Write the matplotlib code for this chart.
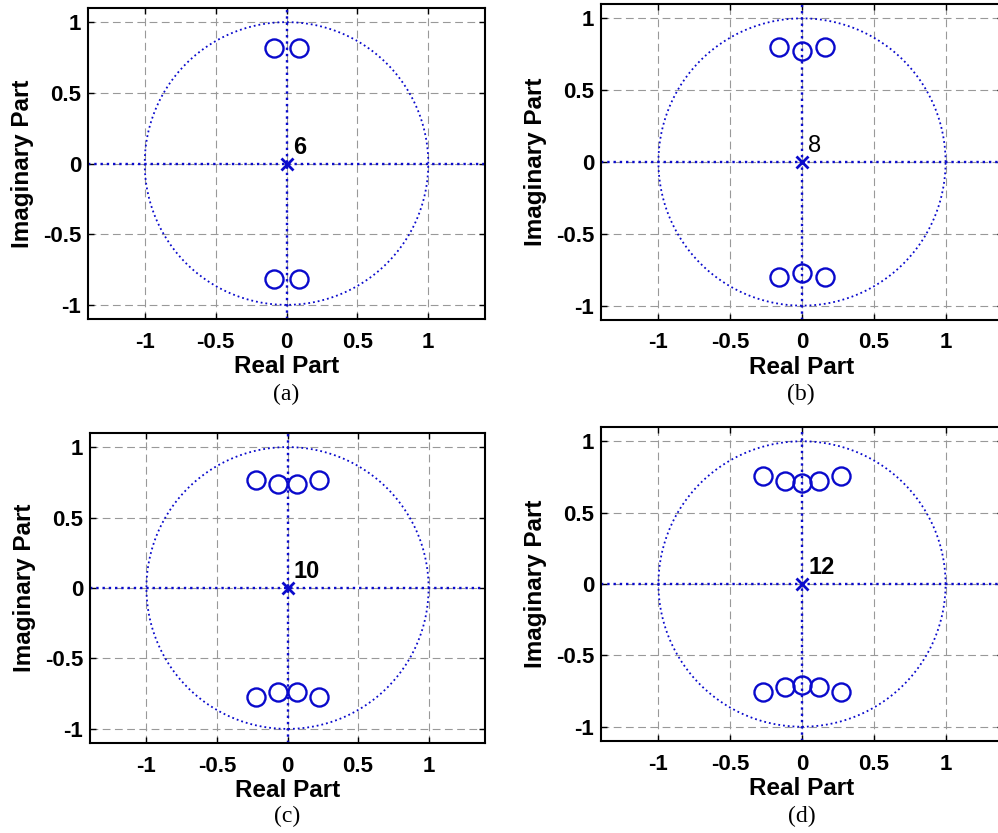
import numpy as np
import matplotlib.pyplot as plt

plt.rcParams['font.family'] = 'Liberation Sans'
plt.rcParams['axes.unicode_minus'] = False

# zeros (real / imaginary parts)
zr_a = [-0.09, 0.09, -0.09, 0.09]
zi_a = [0.82, 0.82, -0.82, -0.82]
zr_b = [-0.16, 0.0, 0.16, -0.16, 0.0, 0.16]
zi_b = [0.80, 0.77, 0.80, -0.80, -0.77, -0.80]
zr_c = [-0.22, -0.07, 0.07, 0.22, -0.22, -0.07, 0.07, 0.22]
zi_c = [0.77, 0.74, 0.74, 0.77, -0.77, -0.74, -0.74, -0.77]
zr_d = [-0.27, -0.12, 0.0, 0.12, 0.27, -0.27, -0.12, 0.0, 0.12, 0.27]
zi_d = [0.76, 0.72, 0.71, 0.72, 0.76, -0.76, -0.72, -0.71, -0.72, -0.76]

# pole at the origin and its multiplicity
orders = ['6', '8', '10', '12']
tags = ['(a)', '(b)', '(c)', '(d)']

W, H = 998, 833
blue = '#0a0acc'

fig = plt.figure(figsize=(W / 100, H / 100), dpi=100)

# axes boxes in pixels: left, top, width, height
boxes = [(88, 8, 397, 311), (601, 4, 402, 316),
         (90, 433, 395, 310), (601, 427, 402, 314)]
caps = [(286, 394), (801, 394), (287, 816), (802, 816)]
zeros = [(zr_a, zi_a), (zr_b, zi_b), (zr_c, zi_c), (zr_d, zi_d)]
lab_weight = ['bold', 'normal', 'bold', 'bold']

t = np.linspace(0, 2 * np.pi, 500)

for i in range(4):
    l, tp, w, h = boxes[i]
    ax = fig.add_axes([l / W, 1 - (tp + h) / H, w / W, h / H])
    ax.set_xlim(-1.4, 1.4)
    ax.set_ylim(-1.1, 1.1)
    ax.grid(True, ls=(0, (7, 4)), color='#999999', lw=0.8)
    ax.set_axisbelow(True)
    # unit circle and axes lines
    ax.plot(np.cos(t), np.sin(t), ':', color=blue, lw=1.3)
    ax.plot([-1.4, 1.4], [0, 0], ':', color=blue, lw=1.7)
    ax.plot([0, 0], [-1.1, 1.1], ':', color=blue, lw=1.7)
    zr, zi = zeros[i]
    ax.plot(zr, zi, 'o', ms=13, mfc='none', mec=blue, mew=1.7, ls='none')
    ax.plot([0], [0], 'x', ms=9, mec=blue, mew=2, ls='none')
    ax.text(0.045, 0.035, orders[i], fontsize=17, fontweight=lab_weight[i],
            ha='left', va='bottom', color='black')
    ax.set_xticks([-1, -0.5, 0, 0.5, 1])
    ax.set_yticks([-1, -0.5, 0, 0.5, 1])
    ax.set_xticklabels(['-1', '-0.5', '0', '0.5', '1'])
    ax.set_yticklabels(['-1', '-0.5', '0', '0.5', '1'])
    ax.tick_params(direction='in', top=True, right=True, length=4,
                   labelsize=16, width=1)
    ax.tick_params(axis='x', pad=9)
    ax.tick_params(axis='y', pad=5)
    for lb in ax.get_xticklabels() + ax.get_yticklabels():
        lb.set_fontweight('bold')
    for s in ax.spines.values():
        s.set_linewidth(1.5)
    ax.set_xlabel('Real Part', fontsize=17.5, fontweight='bold', labelpad=2)
    ax.set_ylabel('Imaginary Part', fontsize=17.5, fontweight='bold', labelpad=6)
    fig.text(caps[i][0] / W, 1 - caps[i][1] / H, tags[i], fontsize=17,
             family='Liberation Serif', ha='center', va='center')

fig.savefig('out.png', dpi=100)
